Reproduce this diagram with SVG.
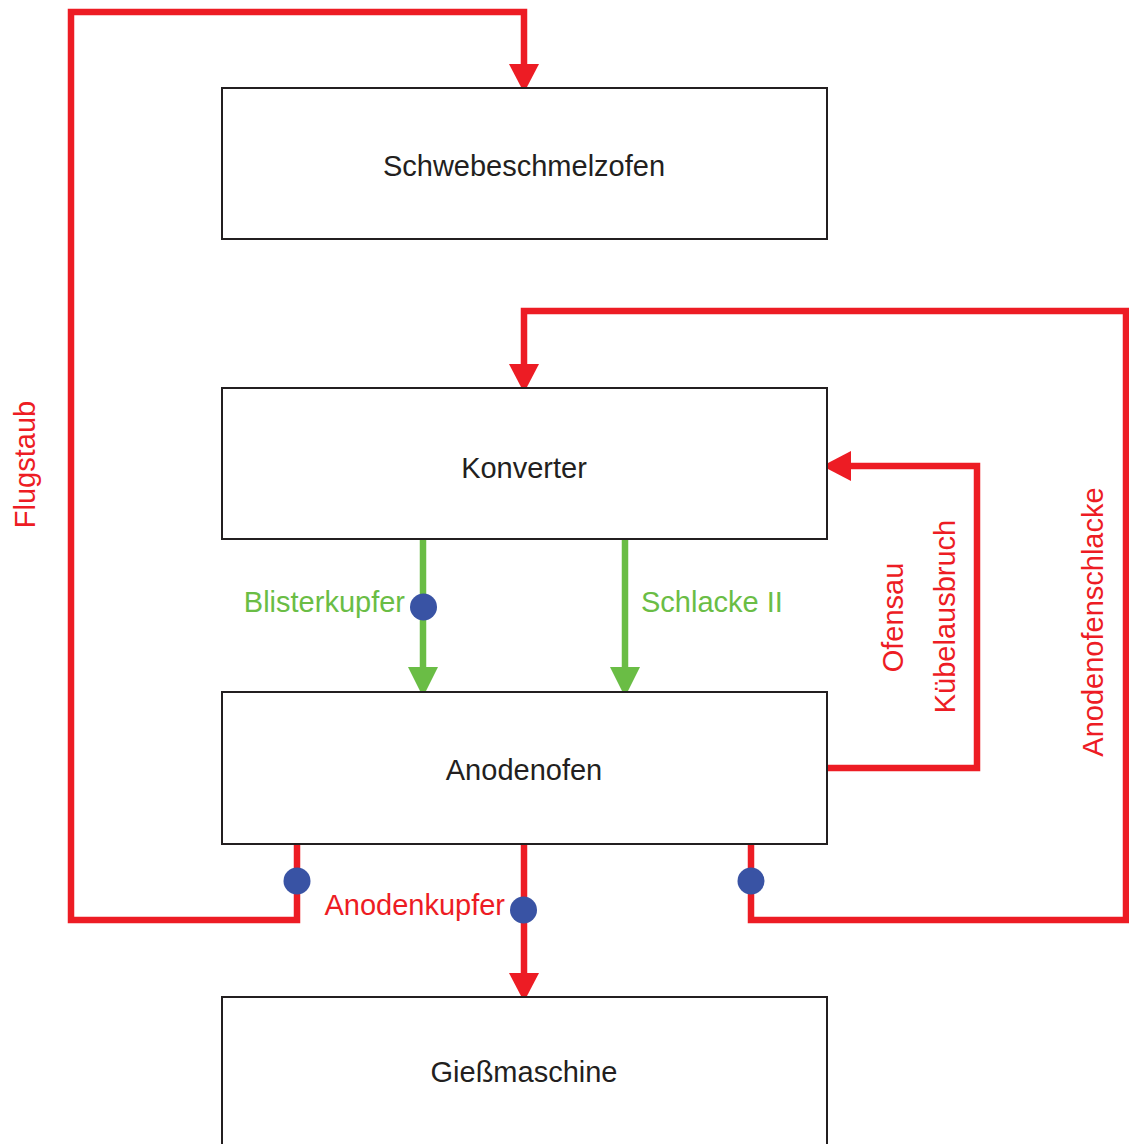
<svg xmlns="http://www.w3.org/2000/svg" width="1129" height="1144" viewBox="0 0 1129 1144">
<style>
.box{fill:#fff;stroke:#231f20;stroke-width:2}
.t{font-family:"Liberation Sans",Arial,Helvetica,sans-serif;font-size:29px}
.dark{fill:#231f20}
.red{fill:#ed1c24}
.green{fill:#6abd45}
.rl{fill:none;stroke:#ed1c24;stroke-width:6.5;stroke-linejoin:miter}
.gl{fill:none;stroke:#6abd45;stroke-width:6.5}
.dot{fill:#3953a4}
</style>
<defs>
<marker id="ar" markerUnits="userSpaceOnUse" markerWidth="30" markerHeight="30" refX="0" refY="12" orient="auto" viewBox="0 0 24 24">
<path d="M0,0 L23,12 L0,24 z" fill="#ed1c24"/>
</marker>
<marker id="ag" markerUnits="userSpaceOnUse" markerWidth="30" markerHeight="30" refX="0" refY="12" orient="auto" viewBox="0 0 24 24">
<path d="M0,0 L24,12 L0,24 z" fill="#6abd45"/>
</marker>
</defs>
<rect width="1129" height="1144" fill="#fff"/>
<g id="connectors">
<path class="rl" d="M297,845 V920 H71 V12 H524 V64" marker-end="url(#ar)"/>
<path class="rl" d="M751,845 V920 H1126 V311 H524 V364" marker-end="url(#ar)"/>
<path class="rl" d="M827,768 H977 V466 H851" marker-end="url(#ar)"/>
<path class="rl" d="M524,845 V973" marker-end="url(#ar)"/>
<path class="gl" d="M423,540 V667" marker-end="url(#ag)"/>
<path class="gl" d="M625,540 V667" marker-end="url(#ag)"/>
<circle class="dot" cx="423.5" cy="607" r="13.5"/>
<circle class="dot" cx="297" cy="881" r="13.5"/>
<circle class="dot" cx="523.5" cy="910" r="13.5"/>
<circle class="dot" cx="751" cy="881" r="13.5"/>
<text class="t green" x="405" y="612" text-anchor="end">Blisterkupfer</text>
<text class="t green" x="641" y="612">Schlacke II</text>
<text class="t red" x="505" y="915" text-anchor="end">Anodenkupfer</text>
<text class="t red" transform="translate(35,464.5) rotate(-90)" text-anchor="middle">Flugstaub</text>
<text class="t red" transform="translate(903,617.5) rotate(-90)" text-anchor="middle">Ofensau</text>
<text class="t red" transform="translate(955,616.5) rotate(-90)" text-anchor="middle">Kübelausbruch</text>
<text class="t red" transform="translate(1103,622) rotate(-90)" text-anchor="middle">Anodenofenschlacke</text>
</g>
<g id="schwebeschmelzofen">
<rect class="box" x="222" y="88" width="605" height="151"/>
<text class="t dark" x="524" y="176" text-anchor="middle">Schwebeschmelzofen</text>
</g>
<g id="konverter">
<rect class="box" x="222" y="388" width="605" height="151"/>
<text class="t dark" x="524" y="478" text-anchor="middle">Konverter</text>
</g>
<g id="anodenofen">
<rect class="box" x="222" y="692" width="605" height="152"/>
<text class="t dark" x="524" y="780" text-anchor="middle">Anodenofen</text>
</g>
<g id="giessmaschine">
<rect class="box" x="222" y="997" width="605" height="160"/>
<text class="t dark" x="524" y="1082" text-anchor="middle">Gießmaschine</text>
</g>
</svg>
